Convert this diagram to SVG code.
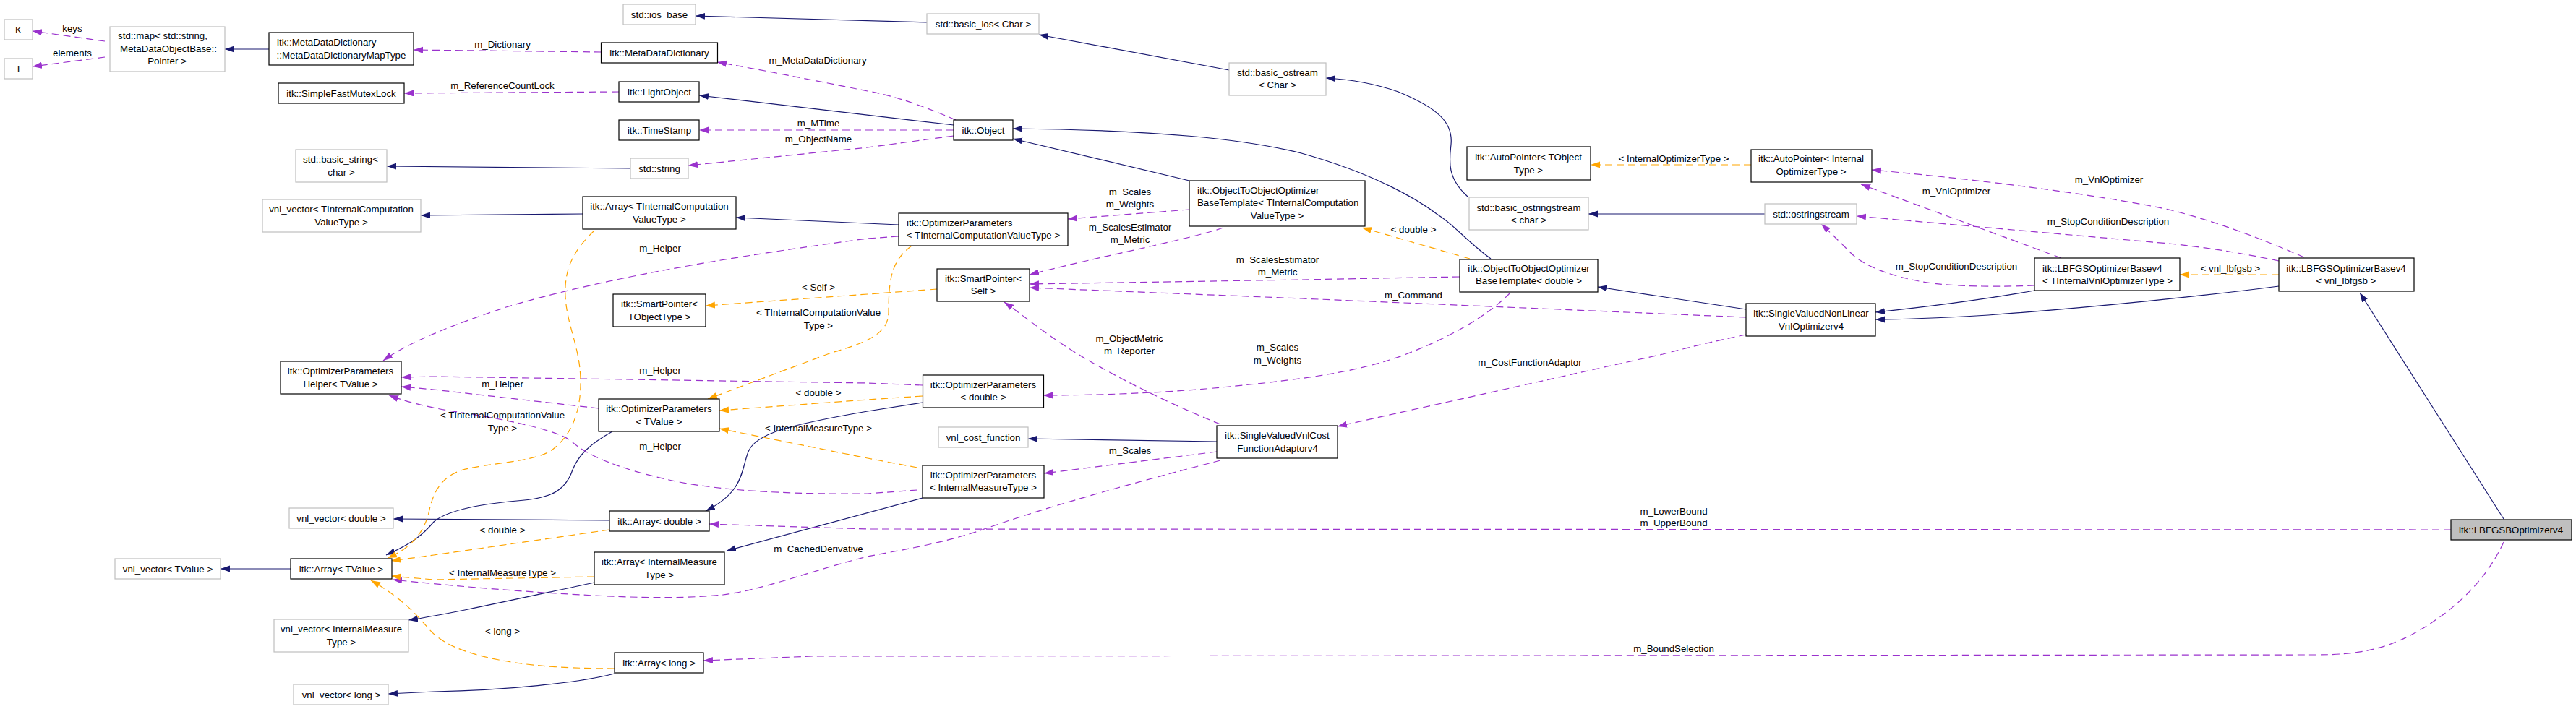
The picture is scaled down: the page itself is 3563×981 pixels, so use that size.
<svg xmlns="http://www.w3.org/2000/svg" width="3563" height="981" viewBox="0 0 3563 981">
<style>
.nb{fill:#fff;stroke:#000;stroke-width:1.2}
.ng{fill:#fff;stroke:#bfbfbf;stroke-width:1.2}
.nt{fill:#bfbfbf;stroke:#000;stroke-width:1.2}
text{font-family:"Liberation Sans",Arial,sans-serif;font-size:13.3px;fill:#000;text-anchor:middle}
text.l{text-anchor:start}
.e{fill:none;stroke:#191970;stroke-width:1.2;marker-end:url(#an)}
.u{fill:none;stroke:#9a32cd;stroke-width:1.2;stroke-dasharray:10,6;marker-end:url(#ap)}
.o{fill:none;stroke:#ffa500;stroke-width:1.2;stroke-dasharray:10,6;marker-end:url(#ao)}
</style>
<defs>
<marker id="an" markerUnits="userSpaceOnUse" viewBox="0 0 14 10" markerWidth="14" markerHeight="10" refX="13" refY="4.5" orient="auto"><path d="M0,0 L13,4.5 L0,9 z" fill="#191970"/></marker>
<marker id="ap" markerUnits="userSpaceOnUse" viewBox="0 0 14 10" markerWidth="14" markerHeight="10" refX="13" refY="4.5" orient="auto"><path d="M0,0 L13,4.5 L0,9 z" fill="#9a32cd"/></marker>
<marker id="ao" markerUnits="userSpaceOnUse" viewBox="0 0 14 10" markerWidth="14" markerHeight="10" refX="13" refY="4.5" orient="auto"><path d="M0,0 L13,4.5 L0,9 z" fill="#ffa500"/></marker>
</defs>
<rect width="3563" height="981" fill="#fff"/>
<g id="connectors">
<path class="e" d="M372,68 L311,68"/>
<path class="e" d="M872,233 L535,230"/>
<path class="e" d="M806,296 L582,298"/>
<path class="e" d="M402,787 L305,787"/>
<path class="e" d="M843,720 L544,718"/>
<path class="e" d="M847,597 C815,615 800,630 792,650 C782,680 760,690 715,693 C670,697 620,705 600,722 C585,740 570,752 534,768"/>
<path class="e" d="M822,806 C700,832 620,850 565,858"/>
<path class="e" d="M850,932 C800,945 700,955 600,957 L537,960"/>
<path class="e" d="M1276,557 L1200,569 C1090,588 1045,600 1035,625 C1025,650 1030,680 976,707"/>
<path class="e" d="M1276,689 L1005,762"/>
<path class="e" d="M1700,97 L1437,48"/>
<path class="e" d="M1282,31 L962,22"/>
<path class="e" d="M1319,173 L967,132"/>
<path class="e" d="M1645,250 L1401,192"/>
<path class="e" d="M2062,358 C2030,335 2010,310 1990,298 C1960,275 1900,240 1800,212 C1720,192 1600,180 1401,178"/>
<path class="e" d="M2030,272 C2000,245 2005,220 2007,200 C2010,170 1990,150 1934,127 C1900,115 1870,110 1834,108"/>
<path class="e" d="M2441,296 L2197,296"/>
<path class="e" d="M1243,311 L1018,301"/>
<path class="e" d="M2415,428 L2210,397"/>
<path class="e" d="M2814,402 C2740,415 2680,423 2594,432"/>
<path class="e" d="M3152,396 C3060,408 2900,425 2750,436 C2680,440 2630,442 2594,442"/>
<path class="e" d="M1683,611 L1422,607"/>
<path class="e" d="M3463,718 L3264,405"/>

<path class="u" d="M145,57 L45,43"/>
<path class="u" d="M145,79 L45,92"/>
<path class="u" d="M832,72 L572,69"/>
<path class="u" d="M856,127 L559,129"/>
<path class="u" d="M1322,166 C1280,148 1240,133 1200,126 C1120,110 1050,96 992,86"/>
<path class="u" d="M1319,180 L967,180"/>
<path class="u" d="M1319,188 L1200,204 L952,229"/>
<path class="u" d="M1243,327 L1200,330 C1050,350 850,380 700,425 C640,445 570,470 530,499"/>
<path class="u" d="M1276,533 L1200,530 L600,521 L555,522"/>
<path class="u" d="M828,565 L600,539 L555,535"/>
<path class="u" d="M1269,678 L1200,683 C1100,684 1000,680 930,665 C860,650 810,630 790,610 C770,595 700,580 620,568 C590,563 560,555 538,547"/>
<path class="u" d="M1645,290 L1477,303"/>
<path class="u" d="M1692,315 C1650,330 1520,355 1424,380"/>
<path class="u" d="M2019,383 L1800,387 L1424,393"/>
<path class="u" d="M2415,439 L1800,413 L1424,398"/>
<path class="u" d="M1688,587 C1620,560 1540,520 1491,490 C1450,465 1420,440 1389,418"/>
<path class="u" d="M2089,405 C2060,435 2010,465 1945,490 C1880,515 1800,525 1700,535 C1600,545 1500,547 1443,547"/>
<path class="u" d="M1683,625 L1444,655"/>
<path class="u" d="M2415,463 C2380,470 2330,482 2300,490 L1850,590"/>
<path class="u" d="M1688,637 C1580,665 1450,700 1353,735 C1290,755 1240,762 1200,770 C1120,790 1060,815 1000,823 C930,830 850,826 753,820 C680,815 620,810 543,802"/>
<path class="u" d="M3390,733 L1200,732 L981,725"/>
<path class="u" d="M3463,750 C3440,800 3400,840 3350,870 C3300,900 3260,906 3200,906 L1123,908 L973,914"/>
<path class="u" d="M2851,357 L2574,255"/>
<path class="u" d="M3187,356 C3150,340 3080,310 3000,290 C2880,265 2700,245 2589,235"/>
<path class="u" d="M3152,361 C3100,350 3050,342 3000,337 L2568,299"/>
<path class="u" d="M2814,395 C2770,397 2700,397 2660,390 C2620,383 2580,370 2560,350 C2545,335 2530,320 2519,310"/>

<path class="o" d="M1261,340 C1235,360 1229,380 1229,433 C1228,455 1215,470 1150,488 L979,552"/>
<path class="o" d="M1296,400 L1200,407 L976,423"/>
<path class="o" d="M821,320 C795,345 780,370 782,410 C784,450 802,480 803,525 C804,570 790,605 760,625 C730,640 680,640 640,650 C610,660 600,680 594,705 C588,735 570,758 536,772"/>
<path class="o" d="M1276,548 L1200,553 L995,568"/>
<path class="o" d="M1269,647 L1200,634 L995,593"/>
<path class="o" d="M843,733 L600,768 L541,776"/>
<path class="o" d="M822,798 L600,802 L541,797"/>
<path class="o" d="M850,925 C800,925 740,923 690,913 C640,903 610,890 593,870 C580,855 560,830 513,803"/>
<path class="o" d="M2033,358 L1884,315"/>
<path class="o" d="M2422,228 L2200,228"/>
<path class="o" d="M3152,380 L3015,380"/>

<text x="100" y="43.6">keys</text>
<text x="100" y="77.6">elements</text>
<text x="695" y="65.6">m_Dictionary</text>
<text x="695" y="122.6">m_ReferenceCountLock</text>
<text x="1131" y="87.6">m_MetaDataDictionary</text>
<text x="1132" y="174.6">m_MTime</text>
<text x="1132" y="196.6">m_ObjectName</text>
<text x="913" y="347.6">m_Helper</text>
<text x="1132" y="401.6">&lt; Self &gt;</text>
<text x="1132" y="436.6">&lt; TInternalComputationValue</text>
<text x="1132" y="454.6">Type &gt;</text>
<text x="913" y="516.6">m_Helper</text>
<text x="695" y="535.6">m_Helper</text>
<text x="695" y="578.6">&lt; TInternalComputationValue</text>
<text x="695" y="596.6">Type &gt;</text>
<text x="1132" y="547.6">&lt; double &gt;</text>
<text x="1132" y="596.6">&lt; InternalMeasureType &gt;</text>
<text x="913" y="621.6">m_Helper</text>
<text x="695" y="737.6">&lt; double &gt;</text>
<text x="1132" y="763.6">m_CachedDerivative</text>
<text x="695" y="796.6">&lt; InternalMeasureType &gt;</text>
<text x="695" y="877.6">&lt; long &gt;</text>
<text x="1563" y="269.6">m_Scales</text>
<text x="1563" y="286.6">m_Weights</text>
<text x="1563" y="318.6">m_ScalesEstimator</text>
<text x="1563" y="335.6">m_Metric</text>
<text x="1767" y="363.6">m_ScalesEstimator</text>
<text x="1767" y="380.6">m_Metric</text>
<text x="1562" y="472.6">m_ObjectMetric</text>
<text x="1562" y="489.6">m_Reporter</text>
<text x="1767" y="484.6">m_Scales</text>
<text x="1767" y="502.6">m_Weights</text>
<text x="1563" y="627.6">m_Scales</text>
<text x="2315" y="223.6">&lt; InternalOptimizerType &gt;</text>
<text x="1955" y="321.6">&lt; double &gt;</text>
<text x="1955" y="412.6">m_Command</text>
<text x="2116" y="505.6">m_CostFunctionAdaptor</text>
<text x="2315" y="711.6">m_LowerBound</text>
<text x="2315" y="727.6">m_UpperBound</text>
<text x="2315" y="901.6">m_BoundSelection</text>
<text x="2706" y="268.6">m_VnlOptimizer</text>
<text x="2917" y="252.6">m_VnlOptimizer</text>
<text x="2916" y="310.6">m_StopConditionDescription</text>
<text x="2706" y="372.6">m_StopConditionDescription</text>
<text x="3085" y="375.6">&lt; vnl_lbfgsb &gt;</text>
</g>

<g id="n_K"><rect class="ng" x="6" y="27" width="39" height="28"/><text x="25.5" y="45.6">K</text></g>
<g id="n_T"><rect class="ng" x="6" y="81" width="39" height="28"/><text x="25.5" y="99.6">T</text></g>
<g id="n_map"><rect class="ng" x="152" y="37" width="159" height="62"/><text x="225" y="53.6">std::map&lt; std::string,</text><text x="233" y="71.6">MetaDataObjectBase::</text><text x="231" y="88.6">Pointer &gt;</text></g>
<g id="n_mddmt"><rect class="nb" x="372" y="45" width="200" height="45"/><text class="l" x="383" y="62.6">itk::MetaDataDictionary</text><text x="472" y="80.6">::MetaDataDictionaryMapType</text></g>
<g id="n_mutex"><rect class="nb" x="385" y="115" width="174" height="28"/><text x="472" y="133.6">itk::SimpleFastMutexLock</text></g>
<g id="n_bstring"><rect class="ng" x="409" y="207" width="126" height="45"/><text x="471" y="224.6">std::basic_string&lt;</text><text x="472" y="242.6">char &gt;</text></g>
<g id="n_vnltic"><rect class="ng" x="363" y="276" width="219" height="45"/><text x="472" y="293.6">vnl_vector&lt; TInternalComputation</text><text x="472" y="311.6">ValueType &gt;</text></g>
<g id="n_helper"><rect class="nb" x="388" y="500" width="167" height="45"/><text x="471" y="517.6">itk::OptimizerParameters</text><text x="471" y="535.6">Helper&lt; TValue &gt;</text></g>
<g id="n_vnldouble"><rect class="ng" x="400" y="703" width="144" height="28"/><text x="472" y="721.6">vnl_vector&lt; double &gt;</text></g>
<g id="n_vnltvalue"><rect class="ng" x="159" y="773" width="146" height="28"/><text x="232" y="791.6">vnl_vector&lt; TValue &gt;</text></g>
<g id="n_arrtvalue"><rect class="nb" x="402" y="773" width="140" height="28"/><text x="472" y="791.6">itk::Array&lt; TValue &gt;</text></g>
<g id="n_vnlimt"><rect class="ng" x="379" y="857" width="186" height="45"/><text x="472" y="874.6">vnl_vector&lt; InternalMeasure</text><text x="472" y="892.6">Type &gt;</text></g>
<g id="n_vnllong"><rect class="ng" x="406" y="947" width="131" height="28"/><text x="472" y="965.6">vnl_vector&lt; long &gt;</text></g>
<g id="n_iosbase"><rect class="ng" x="862" y="6" width="100" height="28"/><text x="912" y="24.6">std::ios_base</text></g>
<g id="n_mdd"><rect class="nb" x="831.5" y="59" width="161" height="28"/><text x="912" y="77.6">itk::MetaDataDictionary</text></g>
<g id="n_light"><rect class="nb" x="856" y="113" width="111" height="28"/><text x="912" y="131.6">itk::LightObject</text></g>
<g id="n_ts"><rect class="nb" x="856" y="166" width="111" height="28"/><text x="912" y="184.6">itk::TimeStamp</text></g>
<g id="n_string"><rect class="ng" x="872" y="219" width="80" height="28"/><text x="912" y="237.6">std::string</text></g>
<g id="n_arrtic"><rect class="nb" x="806" y="272" width="212" height="45"/><text x="912" y="289.6">itk::Array&lt; TInternalComputation</text><text x="912" y="307.6">ValueType &gt;</text></g>
<g id="n_sptobj"><rect class="nb" x="848" y="407" width="128" height="45"/><text x="912" y="424.6">itk::SmartPointer&lt;</text><text x="912" y="442.6">TObjectType &gt;</text></g>
<g id="n_optv"><rect class="nb" x="828" y="552" width="167" height="45"/><text x="911.5" y="569.6">itk::OptimizerParameters</text><text x="911.5" y="587.6">&lt; TValue &gt;</text></g>
<g id="n_arrdouble"><rect class="nb" x="843" y="707" width="138" height="28"/><text x="912" y="725.6">itk::Array&lt; double &gt;</text></g>
<g id="n_arrimt"><rect class="nb" x="822" y="764" width="180" height="45"/><text x="912" y="781.6">itk::Array&lt; InternalMeasure</text><text x="912" y="799.6">Type &gt;</text></g>
<g id="n_arrlong"><rect class="nb" x="850" y="903" width="123" height="28"/><text x="911.5" y="921.6">itk::Array&lt; long &gt;</text></g>
<g id="n_basicios"><rect class="ng" x="1282" y="19" width="155" height="28"/><text x="1360" y="37.6">std::basic_ios&lt; Char &gt;</text></g>
<g id="n_object"><rect class="nb" x="1319" y="166" width="82" height="28"/><text x="1360" y="184.6">itk::Object</text></g>
<g id="n_optic"><rect class="nb" x="1243" y="295" width="234" height="45"/><text class="l" x="1254" y="312.6">itk::OptimizerParameters</text><text x="1360" y="329.6">&lt; TInternalComputationValueType &gt;</text></g>
<g id="n_spself"><rect class="nb" x="1296" y="372" width="128" height="45"/><text x="1360" y="389.6">itk::SmartPointer&lt;</text><text x="1360" y="406.6">Self &gt;</text></g>
<g id="n_optdouble"><rect class="nb" x="1276.5" y="519" width="167" height="45"/><text x="1360" y="536.6">itk::OptimizerParameters</text><text x="1360" y="553.6">&lt; double &gt;</text></g>
<g id="n_vnlcost"><rect class="ng" x="1298" y="591" width="124" height="28"/><text x="1360" y="609.6">vnl_cost_function</text></g>
<g id="n_optimt"><rect class="nb" x="1276" y="644" width="168" height="45"/><text x="1360" y="661.6">itk::OptimizerParameters</text><text x="1360" y="678.6">&lt; InternalMeasureType &gt;</text></g>
<g id="n_bostream"><rect class="ng" x="1700" y="87" width="134" height="45"/><text x="1767" y="104.6">std::basic_ostream</text><text x="1767" y="121.6">&lt; Char &gt;</text></g>
<g id="n_ooobtic"><rect class="nb" x="1645" y="250" width="243" height="63"/><text class="l" x="1656" y="267.6">itk::ObjectToObjectOptimizer</text><text class="l" x="1656" y="284.6">BaseTemplate&lt; TInternalComputation</text><text x="1766.5" y="302.6">ValueType &gt;</text></g>
<g id="n_svvcfa"><rect class="nb" x="1683" y="589" width="167" height="45"/><text class="l" x="1694" y="607">itk::SingleValuedVnlCost</text><text x="1767" y="624.6">FunctionAdaptorv4</text></g>
<g id="n_aptobj"><rect class="nb" x="2029" y="203" width="171" height="46"/><text x="2114" y="221.6">itk::AutoPointer&lt; TObject</text><text x="2114" y="239.6">Type &gt;</text></g>
<g id="n_bostringstream"><rect class="ng" x="2032" y="273" width="165" height="45"/><text x="2114.5" y="291.6">std::basic_ostringstream</text><text x="2114.5" y="308.6">&lt; char &gt;</text></g>
<g id="n_ooobdouble"><rect class="nb" x="2019" y="359" width="191" height="45"/><text x="2114.5" y="376">itk::ObjectToObjectOptimizer</text><text x="2114.5" y="393">BaseTemplate&lt; double &gt;</text></g>
<g id="n_apiot"><rect class="nb" x="2422" y="207" width="167" height="45"/><text x="2505" y="224">itk::AutoPointer&lt; Internal</text><text x="2505" y="241.6">OptimizerType &gt;</text></g>
<g id="n_ostringstream"><rect class="ng" x="2441" y="282" width="127" height="28"/><text x="2505" y="300.6">std::ostringstream</text></g>
<g id="n_svnlvo"><rect class="nb" x="2415" y="420" width="179" height="45"/><text x="2505" y="437.6">itk::SingleValuedNonLinear</text><text x="2505" y="455.6">VnlOptimizerv4</text></g>
<g id="n_lbfgstivot"><rect class="nb" x="2814" y="357" width="201" height="45"/><text class="l" x="2825" y="375.6">itk::LBFGSOptimizerBasev4</text><text class="l" x="2825" y="392.6">&lt; TInternalVnlOptimizerType &gt;</text></g>
<g id="n_lbfgsvnl"><rect class="nb" x="3152" y="357" width="187" height="46"/><text x="3245" y="375.6">itk::LBFGSOptimizerBasev4</text><text x="3245" y="392.6">&lt; vnl_lbfgsb &gt;</text></g>
<g id="n_lbfgsb"><rect class="nt" x="3390" y="719" width="167" height="28"/><text x="3473" y="737.6">itk::LBFGSBOptimizerv4</text></g>
</svg>
